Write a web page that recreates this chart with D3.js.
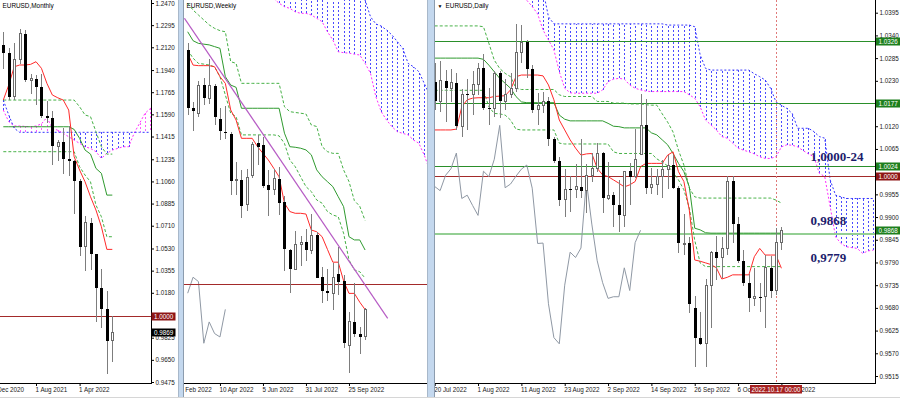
<!DOCTYPE html>
<html>
<head>
<meta charset="utf-8">
<title>EURUSD Monthly / Weekly / Daily</title>
<script src="https://cdn.jsdelivr.net/npm/d3@7"></script>
<style>
	body { margin: 0; background: #fff; }
	svg { display: block; font-family: "Liberation Sans", Arial, sans-serif; }
</style>
</head>
<body>
<div id="chart"></div>
<script>

// ---------------- Monthly bars: Feb 2021 .. Oct 2022 ----------------
let mOpen  = [1.2136, 1.2074, 1.1729, 1.2020, 1.2227, 1.1858, 1.1870, 1.1807, 1.1580, 1.1558, 1.1338, 1.1370, 1.1235, 1.1218, 1.1067, 1.0545, 1.0733, 1.0483, 1.0220, 1.0054, 0.9802];
let mHigh  = [1.2243, 1.2113, 1.2150, 1.2266, 1.2254, 1.1909, 1.1900, 1.1909, 1.1692, 1.1616, 1.1386, 1.1482, 1.1495, 1.1233, 1.1076, 1.0787, 1.0773, 1.0486, 1.0368, 1.0198, 0.9999];
let mLow   = [1.1952, 1.1704, 1.1704, 1.1986, 1.1847, 1.1752, 1.1664, 1.1563, 1.1524, 1.1186, 1.1221, 1.1121, 1.1106, 1.0806, 1.0471, 1.0349, 1.0359, 0.9952, 0.9901, 0.9536, 0.9632];
let mClose = [1.2074, 1.1729, 1.2020, 1.2227, 1.1858, 1.1870, 1.1807, 1.1580, 1.1558, 1.1338, 1.1370, 1.1235, 1.1218, 1.1067, 1.0545, 1.0733, 1.0483, 1.0220, 1.0054, 0.9802, 0.9869];
let mTenkan  = [1.1703, 1.1822, 1.1966, 1.1980, 1.1980, 1.1985, 1.2006, 1.1954, 1.1835, 1.1743, 1.1721, 1.1703, 1.1624, 1.1255, 1.1150, 1.1057, 1.0939, 1.0834, 1.0702, 1.0523, 1.0523];
let mKijun   = [1.1492, 1.1492, 1.1492, 1.1492, 1.1492, 1.1492, 1.1492, 1.1492, 1.1492, 1.1492, 1.1492, 1.1492, 1.1492, 1.1471, 1.1400, 1.1308, 1.1276, 1.1163, 1.1124, 1.0952, 1.0952];
let mDashUp  = [1.1703, 1.1703, 1.1703, 1.1703, 1.1703, 1.1703, 1.1703, 1.1703, 1.1703, 1.1703, 1.1703, 1.1703, 1.1703, 1.1703, 1.1650, 1.1585, 1.1572, 1.1453, 1.1334, 1.1276, 1.1276];
let mDashLow = [1.1295, 1.1295, 1.1295, 1.1295, 1.1295, 1.1295, 1.1295, 1.1295, 1.1295, 1.1295, 1.1295, 1.1295, 1.1295, 1.1295, 1.1176, 1.1110, 1.1057, 1.0873, 1.0781, 1.0623, 1.0623];
// cloud runs 26 bars ahead, bar 0 .. 27
let mSpanA = [1.1624, 1.1532, 1.1498, 1.1498, 1.1495, 1.1492, 1.1498, 1.1515, 1.1566, 1.1480, 1.1464, 1.1440, 1.1413, 1.1387, 1.1361, 1.1334, 1.1321, 1.1295, 1.1242, 1.1282, 1.1308, 1.1321, 1.1334, 1.1334, 1.1440, 1.1519, 1.1598, 1.1637];
let mSpanB = [1.1703, 1.1585, 1.1480, 1.1448, 1.1448, 1.1448, 1.1448, 1.1448, 1.1448, 1.1448, 1.1448, 1.1448, 1.1448, 1.1448, 1.1448, 1.1448, 1.1448, 1.1448, 1.1448, 1.1448, 1.1448, 1.1448, 1.1448, 1.1448, 1.1448, 1.1448, 1.1448, 1.1448];
let mTicks = [1.2470, 1.2295, 1.2120, 1.1940, 1.1765, 1.1590, 1.1415, 1.1235, 1.1060, 1.0885, 1.0710, 1.0530, 1.0355, 1.0180, 0.9825, 0.9650, 0.9475];
let mDateIdx = [-2, 6, 14];
let mDateLabels = ["1 Dec 2020", "1 Aug 2021", "1 Apr 2022"];

// ---------------- Weekly bars: 27 Feb 2022 .. 16 Oct 2022 ----------------
let wOpen  = [1.1230, 1.0925, 1.0900, 1.1047, 1.0977, 1.1040, 1.0870, 1.0800, 1.0790, 1.0545, 1.0550, 1.0420, 1.0570, 1.0740, 1.0730, 1.0520, 1.0500, 1.0555, 1.0430, 1.0180, 1.0080, 1.0210, 1.0220, 1.0180, 1.0258, 1.0036, 0.9965, 0.9954, 1.0052, 1.0016, 0.9680, 0.9802, 0.9741, 0.9723];
let wHigh  = [1.1266, 1.0960, 1.1070, 1.1083, 1.1185, 1.1054, 1.0924, 1.0936, 1.0800, 1.0642, 1.0600, 1.0607, 1.0748, 1.0787, 1.0774, 1.0601, 1.0606, 1.0615, 1.0465, 1.0186, 1.0278, 1.0254, 1.0293, 1.0368, 1.0276, 1.0090, 1.0079, 1.0114, 1.0198, 1.0051, 0.9853, 1.0005, 0.9776, 0.9874];
let wLow   = [1.0889, 1.0806, 1.0880, 1.0944, 1.0945, 1.0837, 1.0757, 1.0761, 1.0471, 1.0470, 1.0349, 1.0387, 1.0556, 1.0627, 1.0506, 1.0359, 1.0469, 1.0366, 1.0072, 0.9952, 1.0080, 1.0097, 1.0123, 1.0160, 1.0031, 0.9901, 0.9911, 0.9864, 0.9945, 0.9667, 0.9536, 0.9725, 0.9634, 0.9705];
let wClose = [1.0928, 1.0911, 1.1047, 1.0977, 1.1046, 1.0878, 1.0805, 1.0797, 1.0545, 1.0550, 1.0412, 1.0562, 1.0733, 1.0719, 1.0518, 1.0495, 1.0555, 1.0425, 1.0185, 1.0080, 1.0210, 1.0220, 1.0180, 1.0258, 1.0035, 0.9965, 0.9953, 1.0037, 1.0014, 0.9690, 0.9802, 0.9741, 0.9723, 0.9868];
let wTenkan  = [1.1212, 1.1152, 1.1149, 1.1149, 1.1149, 1.1143, 1.1091, 1.1056, 1.0916, 1.0863, 1.0767, 1.0767, 1.0767, 1.0723, 1.0688, 1.0653, 1.0610, 1.0565, 1.0426, 1.0382, 1.0373, 1.0373, 1.0369, 1.0285, 1.0276, 1.0250, 1.0183, 1.0116, 1.0116, 1.0018, 0.9952, 0.9952, 0.9906, 0.9867];
let wKijun   = [1.1327, 1.1280, 1.1266, 1.1262, 1.1258, 1.1249, 1.1240, 1.1091, 1.1047, 1.1035, 1.0925, 1.0925, 1.0925, 1.0925, 1.0925, 1.0925, 1.0925, 1.0925, 1.0794, 1.0723, 1.0720, 1.0715, 1.0706, 1.0680, 1.0601, 1.0565, 1.0539, 1.0513, 1.0460, 1.0408, 1.0250, 1.0233, 1.0233, 1.0180];
let wDashUp  = [1.1477, 1.1441, 1.1415, 1.1389, 1.1363, 1.1345, 1.1333, 1.1327, 1.1170, 1.1161, 1.1056, 1.1056, 1.1056, 1.1056, 1.1056, 1.1056, 1.1056, 1.1056, 1.0933, 1.0907, 1.0903, 1.0899, 1.0895, 1.0837, 1.0829, 1.0723, 1.0697, 1.0688, 1.0688, 1.0601, 1.0540, 1.0440, 1.0410, 1.0335];
let wDashLow = [1.1231, 1.1188, 1.1161, 1.1157, 1.1152, 1.1143, 1.1091, 1.0995, 1.0899, 1.0881, 1.0785, 1.0785, 1.0785, 1.0785, 1.0785, 1.0785, 1.0785, 1.0780, 1.0740, 1.0653, 1.0618, 1.0565, 1.0513, 1.0487, 1.0443, 1.0426, 1.0382, 1.0364, 1.0355, 1.0268, 1.0128, 1.0075, 1.0066, 1.0032];
// cloud from week 16 to week 45
let wCloudStart = 16;
let wSpanA = [1.1500, 1.1477, 1.1459, 1.1450, 1.1432, 1.1424, 1.1424, 1.1415, 1.1398, 1.1380, 1.1327, 1.1284, 1.1222, 1.1217, 1.1215, 1.1209, 1.1205, 1.1161, 1.1109, 1.0986, 1.0907, 1.0863, 1.0828, 1.0802, 1.0793, 1.0785, 1.0758, 1.0741, 1.0679, 1.0600];
let wSpanB = [1.1700, 1.1700, 1.1700, 1.1700, 1.1700, 1.1700, 1.1700, 1.1700, 1.1700, 1.1700, 1.1700, 1.1650, 1.1620, 1.1580, 1.1550, 1.1530, 1.1510, 1.1494, 1.1406, 1.1368, 1.1357, 1.1336, 1.1310, 1.1275, 1.1240, 1.1161, 1.1143, 1.1117, 1.1056, 1.0995];
// down trend line: [week index, price]
let wTrend = [[-0.6, 1.1398], [37.2, 0.9821]];
let wDateIdx = [-2, 6, 14, 22, 30];
let wDateLabels = ["13 Feb 2022", "10 Apr 2022", "5 Jun 2022", "31 Jul 2022", "25 Sep 2022"];

// ---------------- Daily bars: 20 Jul 2022 .. 18 Oct 2022 ----------------
let dOpen  = [1.0228, 1.0180, 1.0230, 1.0212, 1.0225, 1.0120, 1.0198, 1.0197, 1.0220, 1.0260, 1.0165, 1.0163, 1.0248, 1.0180, 1.0196, 1.0212, 1.0298, 1.0323, 1.0258, 1.0160, 1.0170, 1.0180, 1.0088, 1.0036, 0.9942, 0.9967, 0.9967, 0.9974, 0.9964, 1.0001, 1.0017, 1.0055, 0.9945, 0.9953, 0.9928, 0.9904, 1.0011, 0.9998, 1.0052, 1.0122, 0.9971, 0.9980, 0.9999, 1.0016, 1.0026, 0.9970, 0.9836, 0.9837, 0.9680, 0.9608, 0.9593, 0.9735, 0.9815, 0.9802, 0.9825, 0.9987, 0.9883, 0.9794, 0.9741, 0.9703, 0.9707, 0.9707, 0.9777, 0.9722, 0.9838];
let dHigh  = [1.0273, 1.0278, 1.0257, 1.0258, 1.0248, 1.0210, 1.0235, 1.0254, 1.0274, 1.0294, 1.0213, 1.0254, 1.0253, 1.0234, 1.0248, 1.0368, 1.0364, 1.0329, 1.0268, 1.0201, 1.0202, 1.0191, 1.0095, 1.0045, 1.0017, 0.9999, 1.0028, 1.0090, 1.0029, 1.0054, 1.0079, 1.0057, 1.0033, 0.9960, 0.9990, 1.0011, 1.0030, 1.0114, 1.0198, 1.0187, 1.0019, 1.0017, 1.0037, 1.0051, 1.0051, 0.9976, 0.9907, 0.9851, 0.9709, 0.9671, 0.9749, 0.9817, 0.9853, 0.9852, 0.9999, 0.9999, 0.9900, 0.9821, 0.9761, 0.9776, 0.9740, 0.9807, 0.9806, 0.9874, 0.9875];
let dLow   = [1.0160, 1.0155, 1.0130, 1.0179, 1.0111, 1.0094, 1.0112, 1.0146, 1.0196, 1.0160, 1.0123, 1.0142, 1.0141, 1.0160, 1.0189, 1.0202, 1.0273, 1.0236, 1.0151, 1.0122, 1.0151, 1.0073, 1.0031, 0.9926, 0.9901, 0.9913, 0.9946, 0.9947, 0.9911, 0.9985, 1.0008, 0.9911, 0.9941, 0.9876, 0.9864, 0.9875, 0.9929, 0.9995, 1.0052, 0.9956, 0.9956, 0.9954, 0.9945, 0.9967, 0.9967, 0.9812, 0.9807, 0.9667, 0.9536, 0.9590, 0.9537, 0.9632, 0.9748, 0.9752, 0.9808, 0.9836, 0.9789, 0.9732, 0.9670, 0.9685, 0.9669, 0.9632, 0.9705, 0.9711, 0.9820];
let dClose = [1.0180, 1.0230, 1.0212, 1.0225, 1.0120, 1.0198, 1.0197, 1.0220, 1.0260, 1.0165, 1.0163, 1.0248, 1.0180, 1.0196, 1.0212, 1.0298, 1.0323, 1.0258, 1.0160, 1.0170, 1.0180, 1.0088, 1.0036, 0.9942, 0.9967, 0.9967, 0.9974, 0.9964, 1.0001, 1.0017, 1.0055, 0.9945, 0.9953, 0.9928, 0.9904, 1.0011, 0.9998, 1.0040, 1.0122, 0.9971, 0.9980, 0.9999, 1.0016, 1.0026, 0.9970, 0.9836, 0.9837, 0.9690, 0.9608, 0.9593, 0.9735, 0.9815, 0.9802, 0.9825, 0.9987, 0.9883, 0.9794, 0.9741, 0.9703, 0.9707, 0.9707, 0.9777, 0.9722, 0.9838, 0.9868];
let dTenkan  = [1.0111, 1.0111, 1.0111, 1.0111, 1.0113, 1.0167, 1.0184, 1.0188, 1.0189, 1.0189, 1.0189, 1.0192, 1.0193, 1.0194, 1.0208, 1.0240, 1.0244, 1.0244, 1.0244, 1.0244, 1.0242, 1.0220, 1.0184, 1.0135, 1.0111, 1.0087, 1.0067, 1.0050, 1.0053, 1.0054, 1.0018, 1.0002, 0.9998, 0.9990, 0.9982, 0.9973, 0.9978, 0.9986, 1.0022, 1.0030, 1.0030, 1.0030, 1.0030, 1.0050, 1.0058, 1.0010, 0.9986, 0.9917, 0.9796, 0.9793, 0.9789, 0.9785, 0.9777, 0.9750, 0.9754, 0.9760, 0.9760, 0.9760, 0.9760, 0.9804, 0.9824, 0.9808, 0.9808, 0.9808, 0.9776];
let dKijun   = [1.0285, 1.0285, 1.0285, 1.0285, 1.0285, 1.0285, 1.0285, 1.0285, 1.0285, 1.0282, 1.0268, 1.0252, 1.0236, 1.0224, 1.0212, 1.0192, 1.0179, 1.0177, 1.0177, 1.0177, 1.0177, 1.0177, 1.0177, 1.0147, 1.0137, 1.0133, 1.0133, 1.0133, 1.0133, 1.0133, 1.0133, 1.0133, 1.0127, 1.0120, 1.0119, 1.0116, 1.0116, 1.0116, 1.0116, 1.0116, 1.0104, 1.0099, 1.0087, 1.0075, 1.0054, 1.0030, 1.0010, 0.9973, 0.9873, 0.9869, 0.9862, 0.9861, 0.9861, 0.9861, 0.9861, 0.9861, 0.9861, 0.9861, 0.9861, 0.9861, 0.9861, 0.9861, 0.9861, 0.9861, 0.9861];
let dDashUp  = [1.0363, 1.0363, 1.0363, 1.0363, 1.0363, 1.0363, 1.0363, 1.0363, 1.0363, 1.0361, 1.0321, 1.0280, 1.0260, 1.0248, 1.0240, 1.0212, 1.0209, 1.0209, 1.0209, 1.0209, 1.0209, 1.0209, 1.0209, 1.0196, 1.0192, 1.0192, 1.0192, 1.0192, 1.0192, 1.0192, 1.0180, 1.0180, 1.0180, 1.0176, 1.0176, 1.0176, 1.0174, 1.0174, 1.0174, 1.0172, 1.0171, 1.0171, 1.0150, 1.0130, 1.0106, 1.0062, 1.0026, 0.9970, 0.9949, 0.9946, 0.9946, 0.9946, 0.9946, 0.9946, 0.9946, 0.9946, 0.9946, 0.9946, 0.9946, 0.9946, 0.9946, 0.9946, 0.9946, 0.9941, 0.9934];
let dDashLow = [1.0207, 1.0207, 1.0207, 1.0207, 1.0207, 1.0207, 1.0207, 1.0207, 1.0207, 1.0207, 1.0167, 1.0151, 1.0150, 1.0147, 1.0135, 1.0113, 1.0111, 1.0111, 1.0111, 1.0111, 1.0111, 1.0111, 1.0111, 1.0079, 1.0077, 1.0077, 1.0077, 1.0077, 1.0077, 1.0077, 1.0077, 1.0077, 1.0077, 1.0058, 1.0054, 1.0054, 1.0054, 1.0054, 1.0054, 1.0054, 1.0054, 1.0041, 1.0033, 1.0024, 1.0009, 0.9990, 0.9966, 0.9922, 0.9844, 0.9789, 0.9780, 0.9780, 0.9780, 0.9780, 0.9780, 0.9780, 0.9780, 0.9780, 0.9780, 0.9780, 0.9780, 0.9780, 0.9780, 0.9780, 0.9780];
// cloud from day 17 to day 81
let dCloudStart = 17;
let dSpanA = [1.0425, 1.0410, 1.0392, 1.0353, 1.0329, 1.0305, 1.0252, 1.0212, 1.0201, 1.0200, 1.0200, 1.0200, 1.0200, 1.0200, 1.0208, 1.0228, 1.0234, 1.0236, 1.0234, 1.0220, 1.0212, 1.0208, 1.0205, 1.0204, 1.0204, 1.0204, 1.0204, 1.0204, 1.0204, 1.0204, 1.0196, 1.0188, 1.0167, 1.0135, 1.0123, 1.0111, 1.0095, 1.0091, 1.0079, 1.0067, 1.0062, 1.0058, 1.0053, 1.0046, 1.0042, 1.0042, 1.0046, 1.0070, 1.0075, 1.0074, 1.0070, 1.0061, 1.0053, 1.0046, 1.0006, 0.9998, 0.9925, 0.9852, 0.9836, 0.9828, 0.9826, 0.9824, 0.9812, 0.9818, 0.9820];
let dSpanB = [1.0450, 1.0450, 1.0450, 1.0450, 1.0385, 1.0368, 1.0368, 1.0368, 1.0368, 1.0368, 1.0368, 1.0368, 1.0368, 1.0368, 1.0368, 1.0368, 1.0368, 1.0368, 1.0368, 1.0368, 1.0368, 1.0368, 1.0368, 1.0368, 1.0368, 1.0368, 1.0365, 1.0365, 1.0365, 1.0365, 1.0365, 1.0361, 1.0293, 1.0260, 1.0256, 1.0256, 1.0256, 1.0256, 1.0256, 1.0256, 1.0256, 1.0256, 1.0247, 1.0240, 1.0232, 1.0212, 1.0179, 1.0171, 1.0163, 1.0151, 1.0115, 1.0115, 1.0115, 1.0107, 1.0095, 1.0091, 0.9990, 0.9953, 0.9949, 0.9945, 0.9945, 0.9945, 0.9945, 0.9945, 0.9945];
let dTicks = [1.0395, 1.0340, 1.0285, 1.0230, 1.0120, 1.0065, 0.9955, 0.9900, 0.9845, 0.9790, 0.9735, 0.9680, 0.9625, 0.9570, 0.9515];
let dGreenLevels = [1.0326, 1.0177, 1.0024];
let dDateIdx = [0, 8, 16, 24, 32, 40, 48, 56, 64];
let dDateLabels = ["20 Jul 2022", "1 Aug 2022", "11 Aug 2022", "23 Aug 2022", "2 Sep 2022", "14 Sep 2022", "26 Sep 2022", "6 Oct 2022", "18 Oct 2022"];
let dCursorIdx = 63;
let dCursorLabel = "2022.10.17 00:00";
let dNotes = ["1,0000-24", "0,9868", "0,9779"];


let axisY = 383;
let labelSize = 6.3;
let colours = {
	tenkan: "#ff2a2a",
	kijun: "#2f9a2f",
	dash: "#45b045",
	spanA: "#ff2bff",
	spanB: "#3434ff",
	chikou: "#8f98a4",
	level: "#a32a2a",
	trend: "#b65bc4"
	};


let svg = d3.select("#chart")
	.append("svg")
		.attr("width", 900)
		.attr("height", 398)
	;
let defs = svg.append("defs");

function makeClip(id, x0, x1, y0, y1) {
	defs.append("clipPath")
		.attr("id", id)
		.append("rect")
			.attr("x", x0)
			.attr("y", y0)
			.attr("width", x1 - x0)
			.attr("height", y1 - y0)
		;
	return `url(#${id})`;
	}


// Scales: bar index -> x, price -> y
let xM = d3.scaleLinear().domain([0, 20]).range([3.3, 112.3]);
let yM = d3.scaleLinear().domain([1.2470, 0.9475]).range([3, 382]);
let xW = d3.scaleLinear().domain([0, 33]).range([187.7, 365.1]);
let yW = d3.scaleLinear().domain([1.1494, 0.9481]).range([0, 383]);
let xD = d3.scaleLinear().domain([0, 64]).range([434.7, 781.4]);
let yD = d3.scaleLinear().domain([1.0395, 0.9515]).range([12.7, 376]);


function drawLine(g, x, y, values, start, colour, dash, width) {
	let line = d3.line()
		.x((d, i) => x(i + start))
		.y(d => y(d))
		;
	g.append("path")
		.datum(values)
		.attr("d", line)
		.attr("fill", "none")
		.attr("stroke", colour)
		.attr("stroke-width", width || 1)
		.attr("stroke-dasharray", dash || null)
		;
	}

function drawCloud(g, x, y, spanA, spanB, start) {
	let cells = spanA.map((a, i) => ({ i: i + start, a: a, b: spanB[i] }));
	g.append("g")
		.attr("shape-rendering", "crispEdges")
		.selectAll("line")
		.data(cells)
		.enter()
			.append("line")
				.attr("x1", d => Math.round(x(d.i)) + 0.5)
				.attr("x2", d => Math.round(x(d.i)) + 0.5)
				.attr("y1", d => y(d.a))
				.attr("y2", d => y(d.b))
				.attr("stroke", d => d.b > d.a ? "#4b4bff" : "#ff5cff")
				.attr("stroke-dasharray", "2,2")
		;
	drawLine(g, x, y, spanA, start, colours.spanA, "2,2");
	drawLine(g, x, y, spanB, start, colours.spanB, "2,2");
	}

function drawCandles(g, x, y, open, high, low, close) {
	let bars = open.map((o, i) => ({ i: i, o: o, h: high[i], l: low[i], c: close[i] }));
	let bar = g.append("g")
		.attr("shape-rendering", "crispEdges")
		.selectAll("g")
		.data(bars)
		.enter()
			.append("g")
		;
	bar.append("line")
		.attr("x1", d => Math.round(x(d.i)) + 0.5)
		.attr("x2", d => Math.round(x(d.i)) + 0.5)
		.attr("y1", d => y(d.h))
		.attr("y2", d => y(d.l))
		.attr("stroke", "#7d7d7d")
		;
	bar.append("rect")
		.attr("x", d => d.c > d.o ? Math.round(x(d.i)) - 0.5 : Math.round(x(d.i)) - 1)
		.attr("width", d => d.c > d.o ? 2 : 3)
		.attr("y", d => y(Math.max(d.o, d.c)))
		.attr("height", d => Math.max(1, Math.abs(y(d.o) - y(d.c))))
		.attr("fill", d => d.c > d.o ? "#fff" : "#000")
		.attr("stroke", d => d.c > d.o ? "#6a6a6a" : "none")
		;
	}

function drawLevel(g, x0, x1, yPos, colour, width) {
	g.append("line")
		.attr("x1", x0)
		.attr("x2", x1)
		.attr("y1", Math.round(yPos) + 0.5)
		.attr("y2", Math.round(yPos) + 0.5)
		.attr("stroke", colour)
		.attr("stroke-width", width || 1)
		.attr("shape-rendering", "crispEdges")
		;
	}

function priceBox(x0, yPos, text, bg) {
	svg.append("rect")
		.attr("x", x0)
		.attr("y", Math.round(yPos) - 3.5)
		.attr("width", 24)
		.attr("height", 8)
		.attr("fill", bg)
		;
	svg.append("text")
		.attr("x", x0 + 2.5)
		.attr("y", Math.round(yPos) + 0.5)
		.attr("dy", "0.35em")
		.attr("fill", "#fff")
		.attr("font-size", labelSize)
		.text(text)
		;
	}

function priceAxis(x0, y, ticks) {
	let axis = d3.axisRight(y)
		.tickValues(ticks)
		.tickSize(3)
		.tickSizeOuter(0)
		.tickPadding(1.5)
		.tickFormat(d3.format(".4f"))
		;
	let g = svg.append("g")
		.attr("transform", `translate(${x0}, 0)`)
		.call(axis)
		;
	g.select(".domain").remove();
	g.attr("font-size", labelSize)
		.attr("font-family", null)
		;
	g.selectAll("text").attr("fill", "#1a1a1a");
	svg.append("line")
		.attr("x1", x0 + 0.5).attr("x2", x0 + 0.5)
		.attr("y1", 0).attr("y2", axisY + 0.5)
		.attr("stroke", "#000")
		.attr("shape-rendering", "crispEdges")
		;
	}

function dateAxis(x, idx, labels, x0, x1, clipId) {
	let axis = d3.axisBottom(x)
		.tickValues(idx)
		.tickSize(3)
		.tickSizeOuter(0)
		.tickPadding(1.5)
		.tickFormat((d, i) => labels[i])
		;
	let g = svg.append("g")
		.attr("clip-path", makeClip(clipId, x0, x1, axisY, 398))
		.append("g")
			.attr("transform", `translate(0, ${axisY})`)
			.call(axis)
		;
	g.select(".domain").remove();
	g.attr("font-size", labelSize).attr("font-family", null);
	g.selectAll("text")
		.attr("text-anchor", "start")
		.attr("x", -1)
		.attr("fill", "#1a1a1a")
		;
	svg.append("line")
		.attr("x1", x0).attr("x2", x1)
		.attr("y1", axisY + 0.5).attr("y2", axisY + 0.5)
		.attr("stroke", "#000")
		.attr("shape-rendering", "crispEdges")
		;
	return g;
	}

function title(x0, text) {
	svg.append("text")
		.attr("x", x0)
		.attr("y", 8.3)
		.attr("font-size", 6.4)
		.attr("fill", "#000")
		.text(text)
		;
	}


// ================= Monthly panel =================
let gM = svg.append("g").attr("clip-path", makeClip("clipM", 0, 151, 0, axisY));
drawCloud(gM, xM, yM, mSpanA, mSpanB, 0);
drawLine(gM, xM, yM, mDashUp, 0, colours.dash, "3,2");
drawLine(gM, xM, yM, mDashLow, 0, colours.dash, "3,2");
drawLine(gM, xM, yM, mKijun, 0, colours.kijun);
drawLine(gM, xM, yM, mTenkan, 0, colours.tenkan);
drawLevel(gM, 0, 151, yM(1.0), colours.level);
drawCandles(gM, xM, yM, mOpen, mHigh, mLow, mClose);
priceAxis(151, yM, mTicks);
dateAxis(xM, mDateIdx, mDateLabels, 0, 151, "clipMx");
priceBox(151.5, yM(1.0), "1.0000", "#8e1515");
priceBox(151.5, yM(mClose[mClose.length - 1]), "0.9869", "#000");
title(2.5, "EURUSD,Monthly");


// ================= Weekly panel =================
let gW = svg.append("g").attr("clip-path", makeClip("clipW", 184, 427, 0, axisY));
drawCloud(gW, xW, yW, wSpanA, wSpanB, wCloudStart);
drawLine(gW, xW, yW, wDashUp, 0, colours.dash, "3,2");
drawLine(gW, xW, yW, wDashLow, 0, colours.dash, "3,2");
drawLine(gW, xW, yW, wKijun, 0, colours.kijun);
drawLine(gW, xW, yW, wTenkan, 0, colours.tenkan);
// lagging line: closes shifted 26 weeks back
drawLine(gW, xW, yW, wClose.slice(26), 0, colours.chikou);
drawLevel(gW, 184, 427, yW(1.0), colours.level);
gW.append("path")
	.datum(wTrend)
	.attr("d", d3.line().x(d => xW(d[0])).y(d => yW(d[1])))
	.attr("stroke", colours.trend)
	.attr("stroke-width", 1.2)
	.attr("fill", "none")
	;
drawCandles(gW, xW, yW, wOpen, wHigh, wLow, wClose);
dateAxis(xW, wDateIdx, wDateLabels, 184, 427, "clipWx");
title(186.5, "EURUSD,Weekly");


// ================= Daily panel =================
let gD = svg.append("g").attr("clip-path", makeClip("clipD", 435, 875, 0, axisY));
drawCloud(gD, xD, yD, dSpanA, dSpanB, dCloudStart);
dGreenLevels.forEach(v => drawLevel(gD, 435, 875, yD(v), "#2a8f2a"));
drawLevel(gD, 435, 875, yD(1.0), colours.level);
drawLevel(gD, 435, 875, yD(dKijun[dKijun.length - 1]), "#94cf94", 2);
drawLine(gD, xD, yD, dDashUp, 0, colours.dash, "3,2");
drawLine(gD, xD, yD, dDashLow, 0, colours.dash, "3,2");
drawLine(gD, xD, yD, dKijun, 0, colours.kijun);
drawLine(gD, xD, yD, dTenkan, 0, colours.tenkan);
// lagging line: closes shifted 26 days back
drawLine(gD, xD, yD, dClose.slice(26), 0, colours.chikou);
gD.append("line")
	.attr("x1", Math.round(xD(dCursorIdx)) + 0.5)
	.attr("x2", Math.round(xD(dCursorIdx)) + 0.5)
	.attr("y1", 0)
	.attr("y2", axisY)
	.attr("stroke", "#e07a7a")
	.attr("stroke-dasharray", "2,2")
	;
drawCandles(gD, xD, yD, dOpen, dHigh, dLow, dClose);

// Level notes
let noteValues = [1.0024, 0.9868, 0.9779];
dNotes.forEach((t, i) => {
	svg.append("text")
		.attr("x", 810.5)
		.attr("y", yD(noteValues[i]) + (i === 0 ? -4.5 : -5))
		.attr("font-family", "'Liberation Serif', 'Times New Roman', serif")
		.attr("font-weight", "bold")
		.attr("font-size", 13)
		.attr("fill", "#1c1c6c")
		.text(t)
		;
	});
svg.select("text:last-of-type");

priceAxis(875, yD, dTicks);
let dAxis = dateAxis(xD, dDateIdx, dDateLabels, 435, 875, "clipDx");
// cursor date box
svg.append("rect")
	.attr("x", xD(dCursorIdx) - 26)
	.attr("y", 385)
	.attr("width", 52)
	.attr("height", 8.5)
	.attr("fill", "#a52020")
	;
svg.append("text")
	.attr("x", xD(dCursorIdx))
	.attr("y", 389.5)
	.attr("dy", "0.35em")
	.attr("text-anchor", "middle")
	.attr("font-size", labelSize)
	.attr("fill", "#fff")
	.text(dCursorLabel)
	;
dGreenLevels.forEach(v => priceBox(876, yD(v), v.toFixed(4), "#1d7f1d"));
priceBox(876, yD(1.0), "1.0000", "#8e1515");
priceBox(876, yD(0.9868), "0.9868", "#1d7f1d");
svg.append("text")
	.attr("x", 437.5)
	.attr("y", 7.8)
	.attr("font-size", 5)
	.text("\u25BC")
	;
title(445.5, "EURUSD,Daily");


// ================= Window frames =================
function separator(x0, x1) {
	svg.append("rect")
		.attr("x", x0).attr("y", 0)
		.attr("width", x1 - x0).attr("height", 398)
		.attr("fill", "#c4d8ee")
		;
	svg.append("line")
		.attr("x1", x1 - 0.5).attr("x2", x1 - 0.5)
		.attr("y1", 0).attr("y2", 398)
		.attr("stroke", "#8c9cae")
		;
	svg.append("line")
		.attr("x1", x0 + 0.5).attr("x2", x0 + 0.5)
		.attr("y1", 0).attr("y2", 398)
		.attr("stroke", "#a8b8ca")
		;
	}
separator(178, 184);
separator(427, 435);
svg.append("line")
	.attr("x1", 0).attr("x2", 900)
	.attr("y1", 397.5).attr("y2", 397.5)
	.attr("stroke", "#d6d6d6")
	;

</script>
</body>
</html>
